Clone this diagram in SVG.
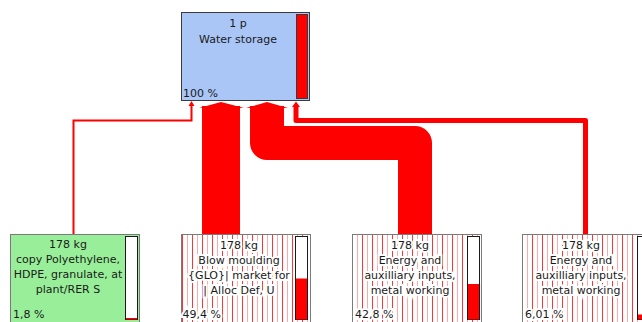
<svg xmlns="http://www.w3.org/2000/svg" width="642" height="322" viewBox="0 0 642 322">
<defs>
<pattern id="hatch" patternUnits="userSpaceOnUse" width="10" height="10">
<rect width="10" height="10" fill="#ffffff"/>
<rect x="2" y="0" width="1" height="10" fill="#ff3333"/>
<rect x="7" y="0" width="1" height="10" fill="#ffaaaa"/>
</pattern>
<style>
.t{font-family:"DejaVu Sans",Verdana,sans-serif;font-size:11px;fill:#1a1a1a}
.c{text-anchor:middle}
.h{stroke:#ffffff;stroke-width:4;stroke-linejoin:miter;paint-order:stroke}
.box{stroke:#7a7a7a;stroke-width:1}
.bar{fill:#ffffff;stroke:#1a1a1a;stroke-width:1}
.lvl{fill:#ff0000}
.red{fill:#ff0000}
.ln{fill:none;stroke:#ff0000}
</style>
</defs>
<g id="connectors">
<polyline class="ln" points="73.5,234 73.5,120.5 191.5,120.5 191.5,105" stroke-width="2"/>
<polygon class="red" points="188.5,106 191.5,101 194.5,106"/>
<rect class="red" x="202" y="106" width="38" height="128"/>
<polygon class="red" points="199,108 221,102 244,108"/>
<path class="ln" d="M415,234 V143 H267 V106" stroke-width="34" stroke-linejoin="round"/>
<polygon class="red" points="246,108 267,102 288,108"/>
<polyline class="ln" points="585.5,234 585.5,120.5 296,120.5 296,106" stroke-width="5" stroke-linejoin="round"/>
<polygon class="red" points="292,107 296,101.5 300,107"/>
</g>
<g id="node-water-storage">
<rect x="181.5" y="12.5" width="128" height="88" fill="#aac6f6" stroke="#3a3a3a" stroke-width="1"/>
<rect x="296.5" y="14.5" width="11" height="84" fill="#ff0000" stroke="#3a3a3a" stroke-width="1"/>
<text class="t c" x="238" y="27">1 p</text>
<text class="t c" x="238" y="42.5">Water storage</text>
<text class="t" x="183" y="97">100 %</text>
</g>
<g id="node-polyethylene">
<rect class="box" x="10.5" y="234.5" width="129" height="100" fill="#99ef99"/>
<rect class="bar" x="125.5" y="236.5" width="12" height="83"/>
<rect class="lvl" x="126" y="318" width="11" height="1.5"/>
<text class="t c" x="68" y="248">178 kg</text>
<text class="t c" x="68" y="263">copy Polyethylene,</text>
<text class="t c" x="68" y="278">HDPE, granulate, at</text>
<text class="t c" x="68" y="293">plant/RER S</text>
<text class="t" x="13" y="318">1,8 %</text>
</g>
<g id="node-blow-moulding">
<rect class="box" x="181.5" y="234.5" width="129" height="100" fill="url(#hatch)"/>
<rect class="bar" x="295.5" y="236.5" width="12" height="83"/>
<rect class="lvl" x="296" y="278.5" width="11" height="41"/>
<text class="t c h" x="239" y="249">178 kg</text>
<text class="t c h" x="239" y="264">Blow moulding</text>
<text class="t c h" x="239" y="279">{GLO}| market for</text>
<text class="t c h" x="239" y="294">| Alloc Def, U</text>
<text class="t h" x="182.5" y="318">49,4 %</text>
</g>
<g id="node-energy-1">
<rect class="box" x="352.5" y="234.5" width="129" height="100" fill="url(#hatch)"/>
<rect class="bar" x="467.5" y="236.5" width="12" height="83"/>
<rect class="lvl" x="468" y="284" width="11" height="35.5"/>
<text class="t c h" x="410" y="249">178 kg</text>
<text class="t c h" x="410" y="264">Energy and</text>
<text class="t c h" x="410" y="279">auxilliary inputs,</text>
<text class="t c h" x="410" y="294">metal working</text>
<text class="t h" x="355" y="318">42,8 %</text>
</g>
<g id="node-energy-2">
<rect class="box" x="522.5" y="234.5" width="129" height="100" fill="url(#hatch)"/>
<rect class="bar" x="637.5" y="236.5" width="12" height="83"/>
<rect class="lvl" x="638" y="314.5" width="11" height="5"/>
<text class="t c h" x="581" y="249">178 kg</text>
<text class="t c h" x="581" y="264">Energy and</text>
<text class="t c h" x="581" y="279">auxilliary inputs,</text>
<text class="t c h" x="581" y="294">metal working</text>
<text class="t h" x="525" y="318">6,01 %</text>
</g>
</svg>
